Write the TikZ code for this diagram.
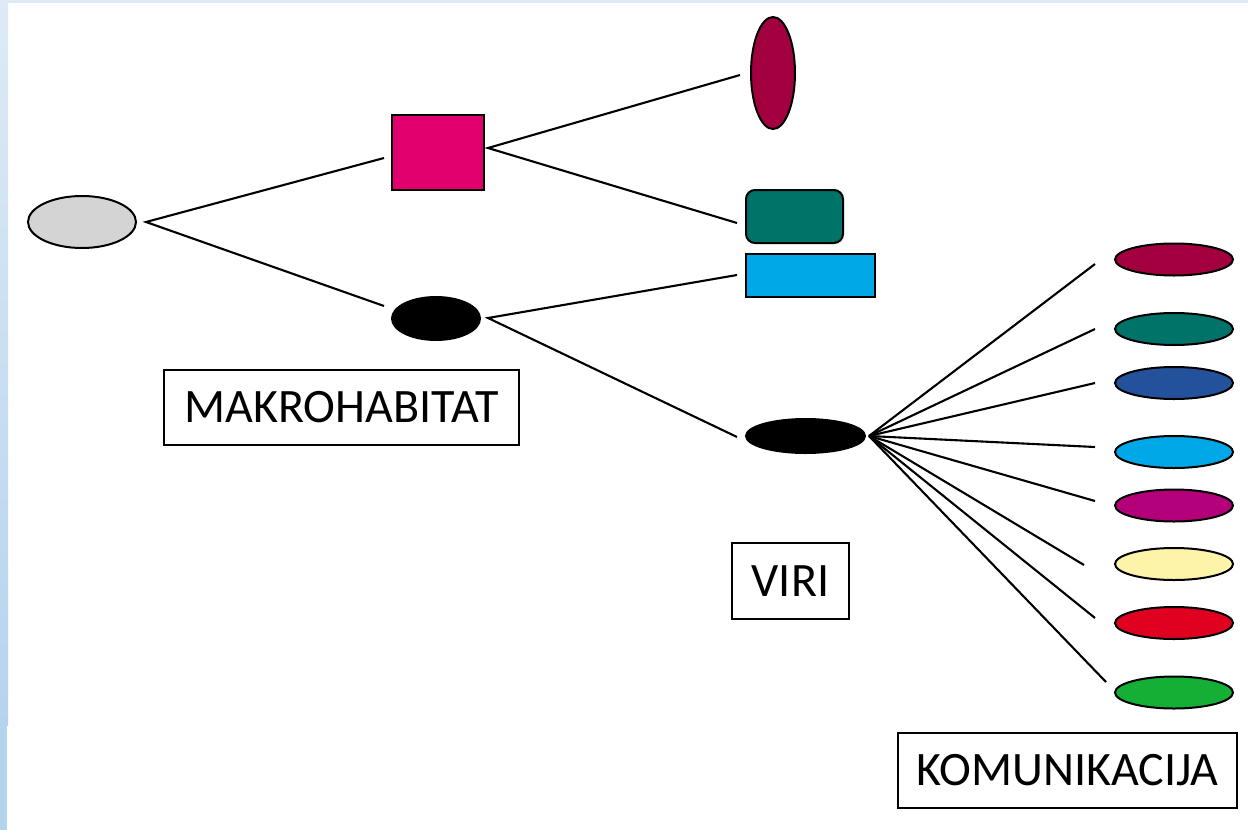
\documentclass[tikz,border=0pt]{standalone}
\usepackage{fontspec}
\setmainfont{Carlito}
\usetikzlibrary{shapes.geometric}
\definecolor{cgray}{HTML}{D4D4D4}
\definecolor{cpink}{HTML}{E2006F}
\definecolor{cmaroon}{HTML}{A30040}
\definecolor{cteal}{HTML}{007368}
\definecolor{cnavy}{HTML}{23519B}
\definecolor{csky}{HTML}{00A8E8}
\definecolor{cpurple}{HTML}{B3007A}
\definecolor{cyellow}{HTML}{FDF3A9}
\definecolor{cred}{HTML}{E0001F}
\definecolor{cgreen}{HTML}{14B035}
\definecolor{stripT}{HTML}{DEEAF6}
\definecolor{stripB}{HTML}{B6D3EE}
\begin{document}
\begin{tikzpicture}[x=1pt,y=-1pt,
  shp/.style={draw=black,line width=2pt,inner sep=0pt},
  ell/.style={shp,ellipse},
  leaf/.style={ell,minimum width=118pt,minimum height=32pt},
  lbl/.style={draw=black,line width=1.4pt,font=\fontsize{48}{56}\selectfont,inner sep=0pt},
  conn/.style={line width=2.1pt}]
\useasboundingbox (0,0) rectangle (1248,830);
\fill[white] (0,0) rectangle (1248,830);
% background strips
\shade[top color=stripT,bottom color=stripB] (0,0) rectangle (8,725);
\fill[stripB] (0,725) rectangle (7,830);
\fill[stripT] (0,0) rectangle (1248,3);

% nodes
\node[ell,fill=cgray,minimum width=108pt,minimum height=52pt] (root) at (82,222) {};
\node[shp,fill=cpink,minimum width=92pt,minimum height=75pt] (sq) at (438,152.5) {};
\node[ell,fill=black,minimum width=88pt,minimum height=43pt] (bl1) at (436,318.5) {};
\node[ell,fill=cmaroon,minimum width=44pt,minimum height=112pt] (tall) at (773,73) {};
\node[shp,fill=cteal,rounded corners=9pt,minimum width=97pt,minimum height=53pt] (teal) at (794.5,216.5) {};
\node[shp,fill=csky,minimum width=129pt,minimum height=43pt] (sky) at (810.5,275.5) {};
\node[ell,fill=black,minimum width=119pt,minimum height=34pt] (bl2) at (805.5,436) {};

\node[leaf,fill=cmaroon] (k1) at (1174,259.5) {};
\node[leaf,fill=cteal] (k2) at (1174,329) {};
\node[leaf,fill=cnavy] (k3) at (1174,383) {};
\node[leaf,fill=csky] (k4) at (1174,452) {};
\node[leaf,fill=cpurple] (k5) at (1174,505.5) {};
\node[leaf,fill=cyellow] (k6) at (1174,564) {};
\node[leaf,fill=cred] (k7) at (1174,623) {};
\node[leaf,fill=cgreen] (k8) at (1174,692.5) {};

\node[lbl,minimum width=355pt,minimum height=75pt] (lmakro) at (341.5,407.5) {MAKROHABITAT};
\node[lbl,minimum width=117pt,minimum height=76pt] (lviri) at (790.5,581) {VIRI};
\node[lbl,minimum width=339pt,minimum height=75pt] (lkom) at (1067.5,770.5) {KOMUNIKACIJA};

% connector ports
\coordinate (root-o) at (146,222);
\coordinate (sq-i) at (384,158);
\coordinate (bl1-i) at (384,306);
\coordinate (sq-o) at (488,148);
\coordinate (tall-i) at (740,75);
\coordinate (teal-i) at (737,223);
\coordinate (bl1-o) at (488,318);
\coordinate (sky-i) at (737,275);
\coordinate (bl2-i) at (737,437);
\coordinate (bl2-o) at (869,436);
\coordinate (k1-i) at (1095,264);
\coordinate (k2-i) at (1095,329);
\coordinate (k3-i) at (1095,383);
\coordinate (k4-i) at (1095,447);
\coordinate (k5-i) at (1095,501);
\coordinate (k6-i) at (1084,565);
\coordinate (k7-i) at (1095,618);
\coordinate (k8-i) at (1106,682);

\draw[conn] (sq-i) -- (root-o) -- (bl1-i);
\draw[conn] (tall-i) -- (sq-o) -- (teal-i);
\draw[conn] (sky-i) -- (bl1-o) -- (bl2-i);
\foreach \k in {k1,k2,k3,k4,k5,k6,k7,k8}
  \draw[conn] (bl2-o) -- (\k-i);
\end{tikzpicture}
\end{document}
